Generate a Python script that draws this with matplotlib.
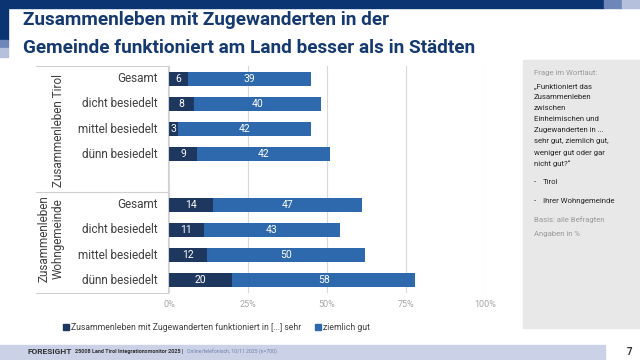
import matplotlib
matplotlib.use("Agg")
import matplotlib.pyplot as plt
from matplotlib.patches import Rectangle
from matplotlib.lines import Line2D

plt.rcParams["font.family"] = ["Roboto", "DejaVu Sans"]

# data
categories = ["Gesamt", "dicht besiedelt", "mittel besiedelt", "dünn besiedelt",
              "Gesamt", "dicht besiedelt", "mittel besiedelt", "dünn besiedelt"]
positions = [0, 1, 2, 3, 5, 6, 7, 8]
sehr_gut = [6, 8, 3, 9, 14, 11, 12, 20]
ziemlich_gut = [39, 40, 42, 42, 47, 43, 50, 58]
group_labels = ["Zusammenleben Tirol", "Zusammenleben\nWohngemeinde"]
x_ticks = [0, 25, 50, 75, 100]
x_ticklabels = ["0%", "25%", "50%", "75%", "100%"]
series_names = ["Zusammenleben mit Zugewanderten funktioniert in [...] sehr", "ziemlich gut"]

DARK = "#1d375f"
BLUE = "#2f69ad"
NAVY = "#0b3572"
W, H = 640, 360


def fx(x):
    return x / W


def fy(y):
    return 1 - y / H


fig = plt.figure(figsize=(6.4, 3.6), dpi=100)
fig.patch.set_facecolor("white")
renderer = fig.canvas.get_renderer()

# decorative header / footer blocks
deco = [
    (0, 0, 604, 8, NAVY),
    (604, 0, 18, 8, "#6e86b8"),
    (622, 0, 18, 8, "#b4c0dc"),
    (0, 0, 8, 40, NAVY),
    (0, 40, 8, 8, "#6e86b8"),
    (0, 48, 8, 9, "#b4c0dc"),
    (0, 345, 605, 15, "#cbd2e7"),
    (523, 60, 117, 268, "#e8e8e8"),
]
for x, y, w, h, c in deco:
    fig.add_artist(Rectangle((fx(x), fy(y + h)), w / W, h / H, color=c,
                             transform=fig.transFigure, zorder=0))

fig.text(fx(23), fy(20), "Zusammenleben mit Zugewanderten in der", fontsize=13.7,
         fontweight="bold", color="#163a70", va="center")
fig.text(fx(23), fy(48), "Gemeinde funktioniert am Land besser als in Städten", fontsize=13.7,
         fontweight="bold", color="#163a70", va="center")

# chart
ax = fig.add_axes([fx(169), fy(293), (485 - 169) / W, (293 - 66) / H])
ax.barh(positions, sehr_gut, height=0.55, color=DARK, zorder=3)
ax.barh(positions, ziemlich_gut, left=sehr_gut, height=0.55, color=BLUE, zorder=3)
for p, a, b in zip(positions, sehr_gut, ziemlich_gut):
    ax.text(a / 2, p, str(a), ha="center", va="center", color="white", fontsize=7.5, zorder=4)
    ax.text(a + b / 2, p, str(b), ha="center", va="center", color="white", fontsize=7.5, zorder=4)

ax.set_xlim(0, 100)
ax.set_ylim(8.5, -0.5)
ax.set_xticks(x_ticks)
ax.set_xticklabels(x_ticklabels)
ax.set_yticks([])
ax.tick_params(axis="x", length=0, labelsize=6.5, labelcolor="#a6a6a6", pad=5)
for s in ax.spines.values():
    s.set_visible(False)
ax.grid(axis="x", color="#d9d9d9", linewidth=0.8, zorder=0)
ax.set_facecolor("none")

# category labels
for p, c in zip(positions, categories):
    ax.text(-0.035, p, c, transform=ax.get_yaxis_transform(), ha="right", va="center",
            fontsize=8.5, color="#404040")

# group separators
box = "#d0d0d0"
lines = [
    ((36, 168), (66, 66)),
    ((36, 168), (192, 192)),
    ((36, 168), (293, 293)),
    ((168, 168), (66, 293)),
]
for xs, ys in lines:
    fig.add_artist(Line2D([fx(xs[0]), fx(xs[1])], [fy(ys[0]), fy(ys[1])], color=box,
                          linewidth=0.8, transform=fig.transFigure))
fig.text(fx(58), fy(130), group_labels[0], rotation=90, ha="center", va="center",
         fontsize=8.5, color="#404040")
fig.text(fx(51), fy(239), group_labels[1], rotation=90, ha="center", va="center",
         fontsize=8.5, color="#404040", linespacing=1.05, multialignment="center")

# legend
fig.add_artist(Rectangle((fx(63), fy(330)), 6 / W, 6 / H, color=DARK, transform=fig.transFigure))
fig.text(fx(71), fy(327), series_names[0], fontsize=6.2, color="#404040", va="center")
fig.add_artist(Rectangle((fx(315), fy(330)), 6 / W, 6 / H, color=BLUE, transform=fig.transFigure))
fig.text(fx(323), fy(327), series_names[1], fontsize=6.2, color="#404040", va="center")

# side panel text
fig.text(fx(534), fy(73), "Frage im Wortlaut:", fontsize=5.6, color="#9a9a9a", va="center")
question = ["„Funktioniert das", "Zusammenleben", "zwischen", "Einheimischen und",
            "Zugewanderten in ...", "sehr gut, ziemlich gut,", "weniger gut oder gar",
            "nicht gut?\u201c"]
for i, line in enumerate(question):
    fig.text(fx(534), fy(86 + i * 11.1), line, fontsize=5.6, color="#262626", va="center")
fig.text(fx(534), fy(182), "-", fontsize=5.6, color="#262626", va="center")
fig.text(fx(543), fy(182), "Tirol", fontsize=5.6, color="#262626", va="center")
fig.text(fx(534), fy(201), "-", fontsize=5.6, color="#262626", va="center")
fig.text(fx(543), fy(201), "Ihrer Wohngemeinde", fontsize=5.6, color="#262626", va="center")
fig.text(fx(534), fy(220), "Basis: alle Befragten", fontsize=5.6, color="#9a9a9a", va="center")
fig.text(fx(534), fy(234), "Angaben in %", fontsize=5.6, color="#9a9a9a", va="center")

# footer, pieces placed one after another
footer = [
    ("FORESIGHT", 6, "bold", "#333333"),
    ("25008 Land Tirol Integrationsmonitor 2025 |", 4.0, "bold", "#333333"),
    ("Online/telefonisch, 10/11 2025 (n=700)", 3.7, "normal", "#6e7fa8"),
]
x = 28
for txt, size, weight, col in footer:
    t = fig.text(fx(x), fy(352), txt, fontsize=size, fontweight=weight, color=col, va="center")
    x += t.get_window_extent(renderer).width + 3
fig.text(fx(627), fy(352), "7", fontsize=7, fontweight="bold", color="#333333", va="center")

fig.savefig("out.png", dpi=100)
